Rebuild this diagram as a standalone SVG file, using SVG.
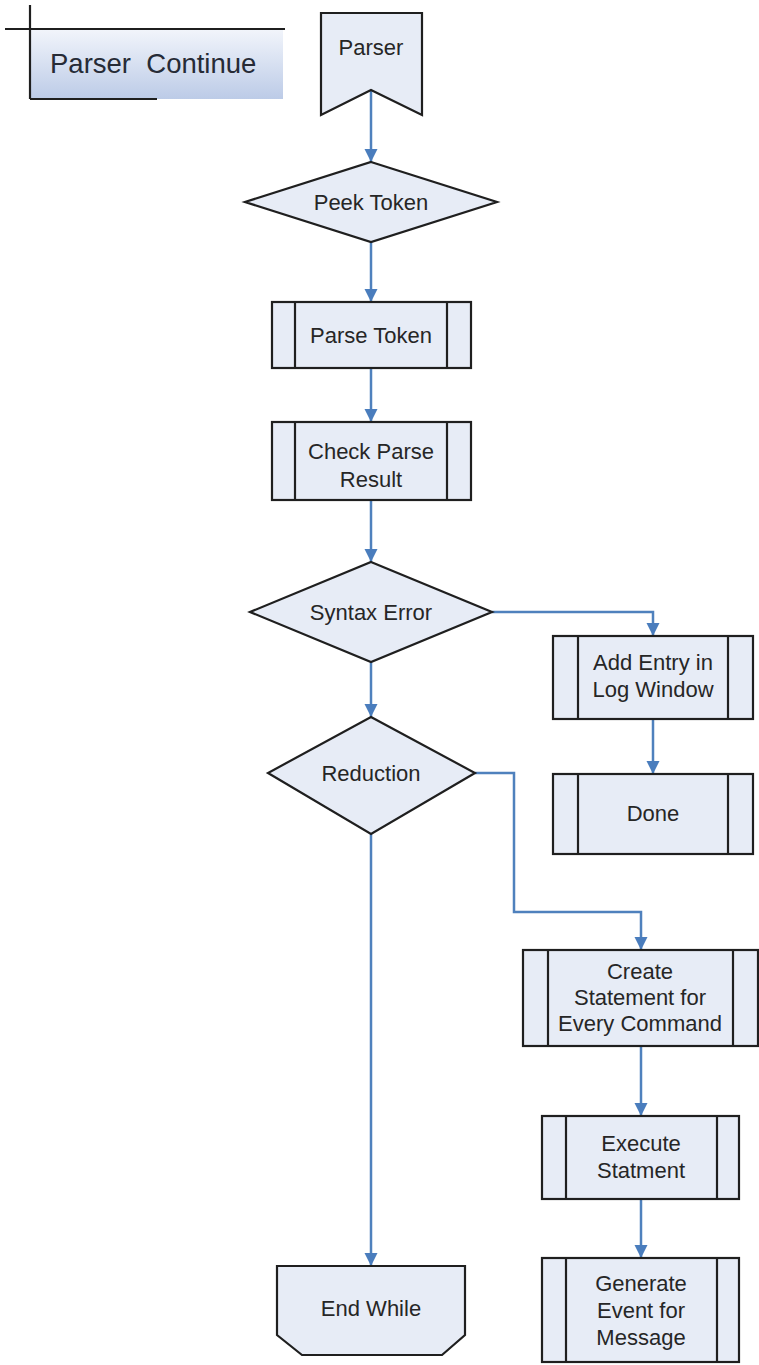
<svg xmlns="http://www.w3.org/2000/svg" width="759" height="1365" viewBox="0 0 759 1365">
  <defs>
    <linearGradient id="pcFill" x1="0" y1="0" x2="0" y2="1">
      <stop offset="0" stop-color="#f2f5fb"/>
      <stop offset="1" stop-color="#bccbe7"/>
    </linearGradient>
    <marker id="arrow" markerUnits="userSpaceOnUse" markerWidth="14" markerHeight="14" refX="13" refY="6.5" orient="auto">
      <path d="M0,0 L13,6.5 L0,13 Z" fill="#4a7dbd"/>
    </marker>
    <style>
      .shape { fill: #e7ecf6; stroke: #1f1f1f; stroke-width: 2.2; stroke-linejoin: miter; }
      .bar { stroke: #1f1f1f; stroke-width: 2.2; }
      .edge { fill: none; stroke: #4f81bd; stroke-width: 2.5; marker-end: url(#arrow); }
      .label { font-family: "Liberation Sans", Arial, sans-serif; font-size: 22px; fill: #262626; text-anchor: middle; }
      .title { font-family: "Liberation Sans", Arial, sans-serif; font-size: 27.5px; fill: #262b36; }
    </style>
  </defs>
  <rect width="759" height="1365" fill="#ffffff"/>

  <!-- page title tab -->
  <g id="parser-continue">
    <rect x="30" y="29" width="253" height="70" fill="url(#pcFill)"/>
    <line x1="5" y1="29" x2="285" y2="29" class="bar"/>
    <line x1="30" y1="5" x2="30" y2="99" class="bar"/>
    <line x1="30" y1="99" x2="157" y2="99" class="bar"/>
    <text class="title" x="50" y="73" xml:space="preserve">Parser  Continue</text>
  </g>

  <!-- connectors -->
  <g id="connectors">
    <line class="edge" x1="371" y1="90" x2="371" y2="162"/>
    <line class="edge" x1="371" y1="242" x2="371" y2="302"/>
    <line class="edge" x1="371" y1="368" x2="371" y2="422"/>
    <line class="edge" x1="371" y1="500" x2="371" y2="562"/>
    <polyline class="edge" points="492,612 653,612 653,636"/>
    <line class="edge" x1="371" y1="662" x2="371" y2="717"/>
    <line class="edge" x1="653" y1="719" x2="653" y2="774"/>
    <polyline class="edge" points="475,773 514,773 514,912 641,912 641,950"/>
    <line class="edge" x1="371" y1="834" x2="371" y2="1266"/>
    <line class="edge" x1="641" y1="1046" x2="641" y2="1116"/>
    <line class="edge" x1="641" y1="1199" x2="641" y2="1258"/>
  </g>

  <!-- off-page entry -->
  <g id="parser">
    <polygon class="shape" points="321,13 422,13 422,115 371,90 321,115"/>
    <text class="label" x="371" y="55">Parser</text>
  </g>

  <g id="peek-token">
    <polygon class="shape" points="371,162 497,202 371,242 245,202"/>
    <text class="label" x="371" y="210">Peek Token</text>
  </g>

  <g id="parse-token">
    <rect class="shape" x="272" y="302" width="199" height="66"/>
    <line class="bar" x1="295" y1="302" x2="295" y2="368"/>
    <line class="bar" x1="447" y1="302" x2="447" y2="368"/>
    <text class="label" x="371" y="343">Parse Token</text>
  </g>

  <g id="check-parse-result">
    <rect class="shape" x="272" y="422" width="199" height="78"/>
    <line class="bar" x1="295" y1="422" x2="295" y2="500"/>
    <line class="bar" x1="447" y1="422" x2="447" y2="500"/>
    <text class="label" x="371" y="459">Check Parse</text>
    <text class="label" x="371" y="487">Result</text>
  </g>

  <g id="syntax-error">
    <polygon class="shape" points="371,562 492,612 371,662 250,612"/>
    <text class="label" x="371" y="620">Syntax Error</text>
  </g>

  <g id="add-entry">
    <rect class="shape" x="553" y="636" width="200" height="83"/>
    <line class="bar" x1="578" y1="636" x2="578" y2="719"/>
    <line class="bar" x1="728" y1="636" x2="728" y2="719"/>
    <text class="label" x="653" y="670">Add Entry in</text>
    <text class="label" x="653" y="697">Log Window</text>
  </g>

  <g id="done">
    <rect class="shape" x="553" y="774" width="200" height="80"/>
    <line class="bar" x1="578" y1="774" x2="578" y2="854"/>
    <line class="bar" x1="728" y1="774" x2="728" y2="854"/>
    <text class="label" x="653" y="821">Done</text>
  </g>

  <g id="reduction">
    <polygon class="shape" points="371,717 475,773 371,834 268,773"/>
    <text class="label" x="371" y="781">Reduction</text>
  </g>

  <g id="create-statement">
    <rect class="shape" x="523" y="950" width="235" height="96"/>
    <line class="bar" x1="548" y1="950" x2="548" y2="1046"/>
    <line class="bar" x1="733" y1="950" x2="733" y2="1046"/>
    <text class="label" x="640" y="979">Create</text>
    <text class="label" x="640" y="1005">Statement for</text>
    <text class="label" x="640" y="1031">Every Command</text>
  </g>

  <g id="execute-statement">
    <rect class="shape" x="542" y="1116" width="197" height="83"/>
    <line class="bar" x1="566" y1="1116" x2="566" y2="1199"/>
    <line class="bar" x1="717" y1="1116" x2="717" y2="1199"/>
    <text class="label" x="641" y="1151">Execute</text>
    <text class="label" x="641" y="1178">Statment</text>
  </g>

  <g id="generate-event">
    <rect class="shape" x="542" y="1258" width="197" height="104"/>
    <line class="bar" x1="566" y1="1258" x2="566" y2="1362"/>
    <line class="bar" x1="717" y1="1258" x2="717" y2="1362"/>
    <text class="label" x="641" y="1291">Generate</text>
    <text class="label" x="641" y="1318">Event for</text>
    <text class="label" x="641" y="1345">Message</text>
  </g>

  <!-- loop limit end -->
  <g id="end-while">
    <polygon class="shape" points="277,1266 465,1266 465,1335 442,1355 302,1355 277,1335"/>
    <text class="label" x="371" y="1316">End While</text>
  </g>
</svg>
